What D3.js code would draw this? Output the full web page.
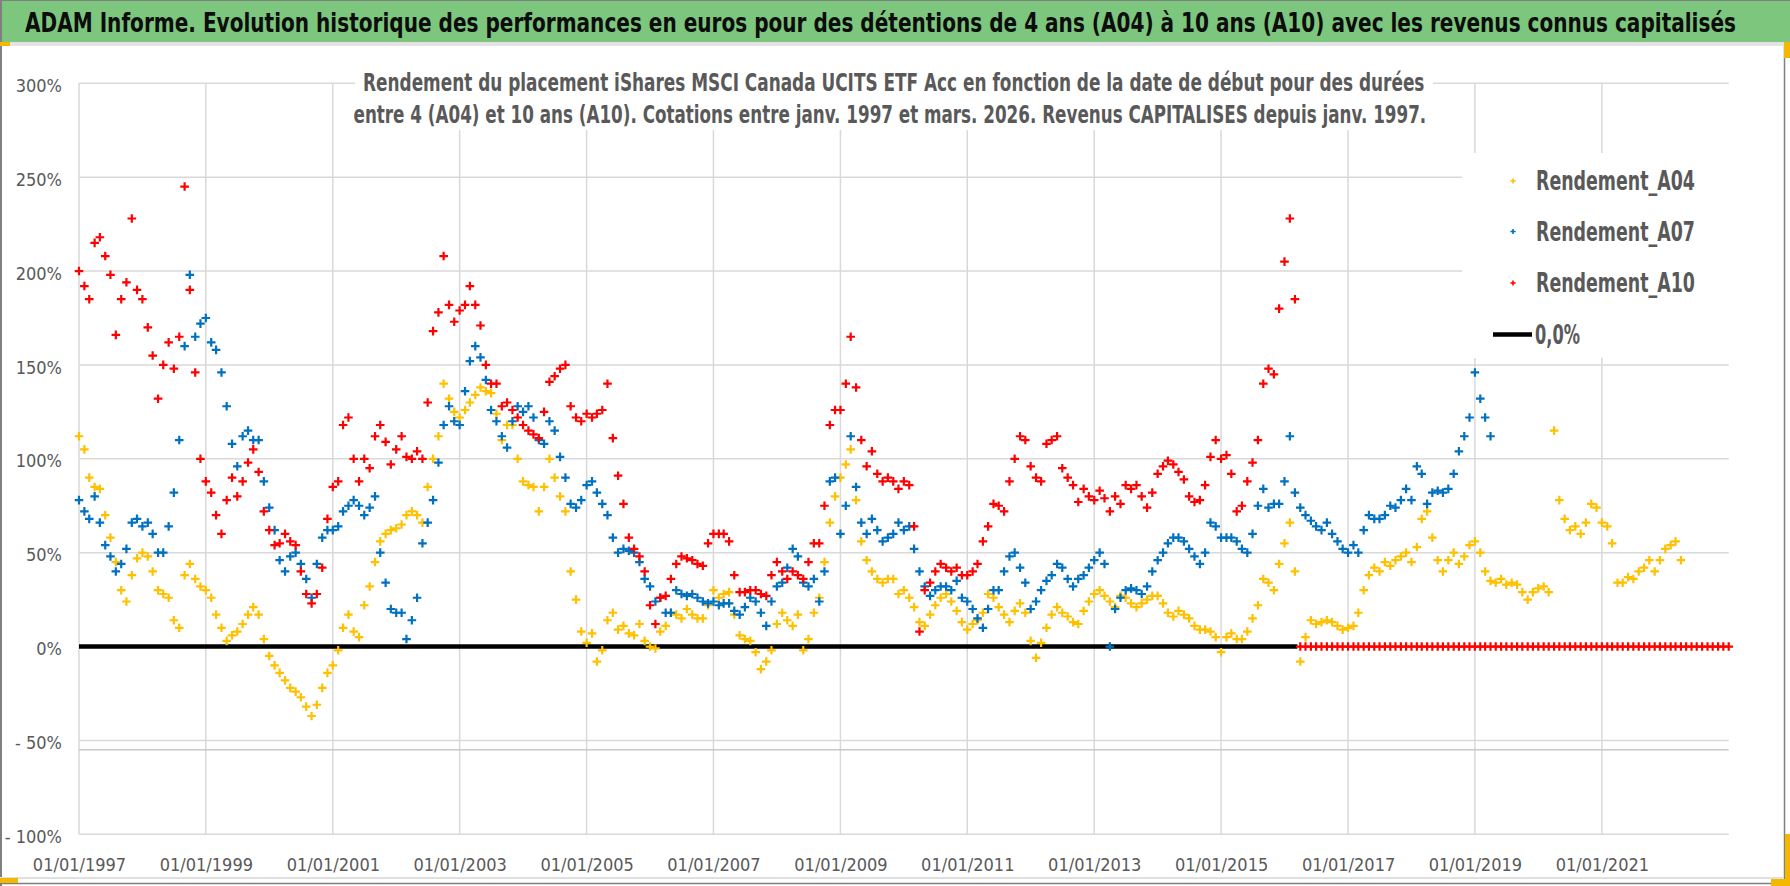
<!DOCTYPE html>
<html>
<head>
<meta charset="utf-8">
<script src="https://cdn.jsdelivr.net/npm/d3@7"></script>
<style>
  body { margin: 0; background: #fff; }
  svg { display: block; }
</style>
</head>
<body>
<div id="chart"></div>
<script>
const title = "ADAM Informe. Evolution historique des performances en euros pour des détentions de 4 ans (A04) à 10 ans (A10) avec les revenus connus capitalisés";
const subtitle = [
  "Rendement du placement iShares MSCI Canada UCITS ETF Acc en fonction de la date de début pour des durées",
  "entre 4 (A04) et 10 ans (A10). Cotations entre janv. 1997 et mars. 2026. Revenus CAPITALISES depuis janv. 1997."
];
const seriesNames = ["Rendement_A04", "Rendement_A07", "Rendement_A10"];
const zeroName = "0,0%";

// one value per month of start date, from janv. 1997 (in %)
const firstMonth = "01/01/1997";
const a04 = [
  112,105,90,85,84,70,58,45,30,24,38,47,
  50,48,40,30,28,26,14,10,38,44,36,32,
  30,26,17,10,3,6,8,12,17,21,17,4,
  -5,-10,-14,-18,-22,-24,-27,-32,-37,-31,-22,-14,
  -10,-2,10,17,8,5,22,32,45,56,60,62,
  63,65,70,72,70,66,85,100,112,140,132,125,
  122,126,130,134,138,136,135,124,110,118,118,100,
  88,86,85,72,85,100,90,80,72,40,25,8,
  2,7,-8,-2,14,18,9,11,7,6,12,3,
  0,-1,8,11,18,17,15,20,17,15,15,22,
  30,26,28,29,17,6,4,3,-3,-12,-8,-2,
  12,18,14,11,17,-2,4,18,26,45,66,80,
  90,97,105,78,56,46,40,36,34,36,36,28,
  30,26,21,13,11,17,22,26,28,24,19,13,
  9,12,14,18,28,26,21,17,13,19,23,18,
  3,-6,2,10,17,21,18,16,13,12,19,24,
  28,30,27,24,21,27,26,23,21,23,25,27,
  27,23,18,16,19,17,15,11,9,9,8,5,
  -3,5,7,4,4,8,15,22,36,34,30,44,
  55,66,40,-8,5,14,12,13,14,13,11,9,
  10,11,18,30,38,42,40,45,43,46,48,50,
  45,53,68,72,58,46,40,46,50,44,48,54,
  56,50,40,35,34,36,33,34,33,29,25,29,
  31,32,29,115,78,68,62,64,60,66,76,74,
  66,64,55,34,34,37,36,40,42,46,40,46,
  52,54,56,46
];
const a07 = [
  78,72,68,80,66,54,48,40,44,52,66,68,
  64,66,60,50,50,64,82,110,160,198,165,172,
  175,162,158,146,128,108,96,112,115,110,110,88,
  74,62,46,40,48,50,44,36,26,44,58,62,
  62,64,72,75,78,75,70,74,80,50,34,20,
  18,18,4,14,26,55,66,78,98,118,128,120,
  118,136,152,160,154,142,126,120,112,106,120,128,
  125,128,122,110,108,120,115,101,90,76,74,78,
  86,88,82,76,70,58,50,52,51,50,45,36,
  32,24,26,18,18,30,28,27,28,26,24,23,
  24,22,23,23,19,17,21,26,24,18,11,24,
  32,34,42,52,48,34,32,36,24,40,88,90,
  60,75,112,85,66,60,68,62,56,58,60,66,
  62,64,52,40,32,27,30,32,32,30,35,26,
  24,20,15,10,20,30,30,40,48,50,42,34,
  20,24,30,35,38,44,42,36,32,36,38,42,
  46,50,44,0,20,26,30,31,30,28,32,40,
  46,50,55,58,58,56,52,48,44,50,66,64,
  58,58,58,56,52,50,60,75,84,74,76,76,
  88,112,82,74,70,67,64,62,66,60,56,52,
  50,54,50,62,70,68,68,70,75,74,78,84,
  78,96,92,76,82,83,82,84,92,104,112,122,
  146,132,122,112
];
const a10 = [
  200,192,185,215,218,208,198,166,185,194,228,190,
  185,170,155,132,150,162,148,165,245,190,146,100,
  88,82,70,60,78,90,80,88,98,105,93,72,
  62,54,55,60,56,54,40,28,23,28,42,68,
  85,88,118,122,100,88,100,95,112,118,109,97,
  105,112,101,100,104,100,130,168,178,208,182,173,
  179,182,192,182,171,150,140,140,128,130,126,122,
  118,115,113,111,125,141,144,148,150,128,122,120,
  124,122,124,126,140,111,91,76,58,52,48,40,
  22,12,26,27,36,44,48,47,46,44,43,55,
  60,60,60,56,38,29,29,30,30,28,27,38,
  45,40,36,40,38,36,45,55,55,75,118,126,
  126,140,165,138,110,96,104,92,88,90,88,84,
  88,86,64,8,30,34,40,44,42,40,42,38,
  38,40,44,56,64,76,75,72,88,100,112,110,
  96,90,88,108,110,112,95,90,86,77,84,80,
  78,83,79,72,80,76,86,84,86,80,74,82,
  92,96,99,97,93,89,80,77,78,86,101,110,
  100,102,92,72,75,88,98,110,140,148,145,180,
  205,228,185,0,0,0,0,0,0,0,0,0,
  0,0,0,0,0,0,0,0,0,0,0,0,
  0,0,0,0,0,0,0,0,0,0,0,0,
  0,0,0,0,0,0,0,0,0,0,0,0,
  0,0,0,0,0,0,0,0,0,0,0,0,
  0,0,0,0,0,0,0,0,0,0,0,0,
  0,0,0,0,0,0,0,0,0,0,0,0,
  0
];
// black 0,0% line
const zeroLineDates = ["01/01/1997", "15/03/2016"];
const zeroLineValues = [0, 0];

const xTickLabels = ["01/01/1997","01/01/1999","01/01/2001","01/01/2003","01/01/2005","01/01/2007",
  "01/01/2009","01/01/2011","01/01/2013","01/01/2015","01/01/2017","01/01/2019","01/01/2021"];
const xDomain = ["01/01/1997", "01/01/2023"];
const yTicks = [-100, -50, 0, 50, 100, 150, 200, 250, 300];

const colors = ["#FFC000", "#0070C0", "#FF0000"];
const textColor = "#595959";
const font = "'Liberation Sans Narrow', 'DejaVu Sans Condensed', 'Open Sans', sans-serif";

const W = 1790, H = 886;
const plot = { left: 79, right: 1728.7, top: 83.3, bottom: 834.3 };

const parse = d3.timeParse("%d/%m/%Y");
const start = parse(firstMonth);

const x = d3.scaleTime()
  .domain(xDomain.map(parse))
  .range([plot.left, plot.right]);

const y = d3.scaleLinear()
  .domain([-100, 300])
  .range([plot.bottom, plot.top]);

const svg = d3.select('#chart')
  .append('svg')
  .attr('width', W)
  .attr('height', H)
  .style('font-family', font);

// text of a given width: font size set from the measured width, height kept by a vertical scale
function fitText(parent, str, px, py, width, size, anchor) {
  const t = parent.append('text')
    .style('font-size', size + 'px').style('font-weight', 'bold')
    .text(str);
  const natural = t.node().getComputedTextLength();
  const k = width / natural;
  const x0 = anchor === 'middle' ? px - width / 2 : px;
  t.style('font-size', (size * k) + 'px')
    .attr('transform', `translate(${x0},${py}) scale(1,${1 / k})`);
  return t;
}

svg.append('rect').attr('width', W).attr('height', H).attr('fill', '#fff');

// header band
svg.append('rect').attr('x', 0).attr('y', 0).attr('width', W).attr('height', 42).attr('fill', '#7DC67E');
svg.append('rect').attr('x', 0).attr('y', 42).attr('width', W).attr('height', 4).attr('fill', '#E3E3E3');
fitText(svg, title, 25, 32, 1712, 27).attr('fill', '#0D0D0D');

// grid
svg.append('g')
  .selectAll('line')
  .data(yTicks)
  .enter()
  .append('line')
  .attr('x1', plot.left).attr('x2', plot.right)
  .attr('y1', d => y(d)).attr('y2', d => y(d))
  .attr('stroke', '#D9D9D9').attr('stroke-width', 1.5);

svg.append('g')
  .selectAll('line')
  .data(xTickLabels)
  .enter()
  .append('line')
  .attr('x1', d => x(parse(d))).attr('x2', d => x(parse(d)))
  .attr('y1', plot.top).attr('y2', plot.bottom)
  .attr('stroke', '#D9D9D9').attr('stroke-width', 1.5);

svg.append('line')
  .attr('x1', plot.left).attr('x2', plot.right)
  .attr('y1', y(-55)).attr('y2', y(-55))
  .attr('stroke', '#C8C8C8').attr('stroke-width', 1.5);

// Y Axis
svg.append('g')
  .attr('transform', `translate(${plot.left - 14},0)`)
  .call(d3.axisLeft(y).tickValues(yTicks).tickSize(0)
    .tickFormat(d => d < 0 ? '- ' + Math.abs(d) + '%' : d + '%'))
  .call(g => g.select('.domain').remove())
  .selectAll('text')
  .attr('fill', textColor)
  .attr('dy', '0.45em')
  .style('font-size', '18px')
  .style('font-family', font);

// X Axis
svg.append('g')
  .attr('transform', `translate(0,${plot.bottom + 20})`)
  .call(d3.axisBottom(x).tickValues(xTickLabels.map(parse)).tickSize(0)
    .tickFormat((d, i) => xTickLabels[i]))
  .call(g => g.select('.domain').remove())
  .selectAll('text')
  .attr('fill', textColor)
  .attr('dy', '0.75em')
  .style('font-size', '18px')
  .style('font-family', font);

// subtitle box
svg.append('rect').attr('x', 355).attr('y', 60).attr('width', 1078).attr('height', 70).attr('fill', '#fff');
fitText(svg, subtitle[0], 894, 91, 1062, 24, 'middle').attr('fill', textColor);
fitText(svg, subtitle[1], 890, 123, 1073, 24, 'middle').attr('fill', textColor);

// 0,0% line
const zeroLine = d3.line()
  .x(d => x(parse(d[0])))
  .y(d => y(d[1]));
svg.append('path')
  .datum(zeroLineDates.map((d, i) => [d, zeroLineValues[i]]))
  .attr('fill', 'none')
  .attr('stroke', '#000')
  .attr('stroke-width', 4.5)
  .attr('d', zeroLine);

// markers
const plus = s => `M${-s},0H${s}M0,${-s}V${s}`;
[a04, a07, a10].forEach((values, k) => {
  svg.append('g')
    .selectAll('path')
    .data(values)
    .enter()
    .append('path')
    .attr('transform', (d, i) => `translate(${x(d3.timeMonth.offset(start, i))},${y(d)})`)
    .attr('d', plus(4.3))
    .attr('fill', 'none')
    .attr('stroke', colors[k])
    .attr('stroke-width', 2.2);
});

// legend
svg.append('rect').attr('x', 1462).attr('y', 153).attr('width', 268).attr('height', 205).attr('fill', '#fff');
const legendRows = [181, 231.5, 283, 334.6];
seriesNames.forEach((name, k) => {
  svg.append('path')
    .attr('transform', `translate(1513,${legendRows[k]})`)
    .attr('d', plus(2.6))
    .attr('stroke', colors[k]).attr('stroke-width', 1.6);
  fitText(svg, name, 1536, legendRows[k] + 9, 159, 26).attr('fill', textColor);
});
svg.append('line')
  .attr('x1', 1493).attr('x2', 1532)
  .attr('y1', legendRows[3]).attr('y2', legendRows[3])
  .attr('stroke', '#000').attr('stroke-width', 4.5);
fitText(svg, zeroName, 1535, legendRows[3] + 9, 45, 26).attr('fill', textColor);

// frame
svg.append('line').attr('x1', 0).attr('x2', W).attr('y1', 0.5).attr('y2', 0.5).attr('stroke', '#808080');
svg.append('line').attr('x1', 1).attr('x2', 1).attr('y1', 0).attr('y2', H).attr('stroke', '#808080').attr('stroke-width', 2);
svg.append('line').attr('x1', 1784.5).attr('x2', 1784.5).attr('y1', 46).attr('y2', 884).attr('stroke', '#808080').attr('stroke-width', 1.5);
svg.append('line').attr('x1', 0).attr('x2', 1784).attr('y1', 878).attr('y2', 878).attr('stroke', '#E0E0E0').attr('stroke-width', 2);
svg.append('line').attr('x1', 0).attr('x2', 1784).attr('y1', 883.5).attr('y2', 883.5).attr('stroke', '#808080').attr('stroke-width', 1.5);

// selection handles
svg.append('rect').attr('x', 0).attr('y', 42).attr('width', 10).attr('height', 4).attr('fill', '#F5B800');
svg.append('rect').attr('x', 1784).attr('y', 42).attr('width', 6).attr('height', 16).attr('fill', '#F5B800');
svg.append('rect').attr('x', 0).attr('y', 878).attr('width', 18).attr('height', 5).attr('fill', '#F5B800');
svg.append('rect').attr('x', 1785).attr('y', 834).attr('width', 5).attr('height', 52).attr('fill', '#F5B800');
svg.append('rect').attr('x', 1771).attr('y', 879).attr('width', 19).attr('height', 7).attr('fill', '#F5B800');
</script>
</body>
</html>
